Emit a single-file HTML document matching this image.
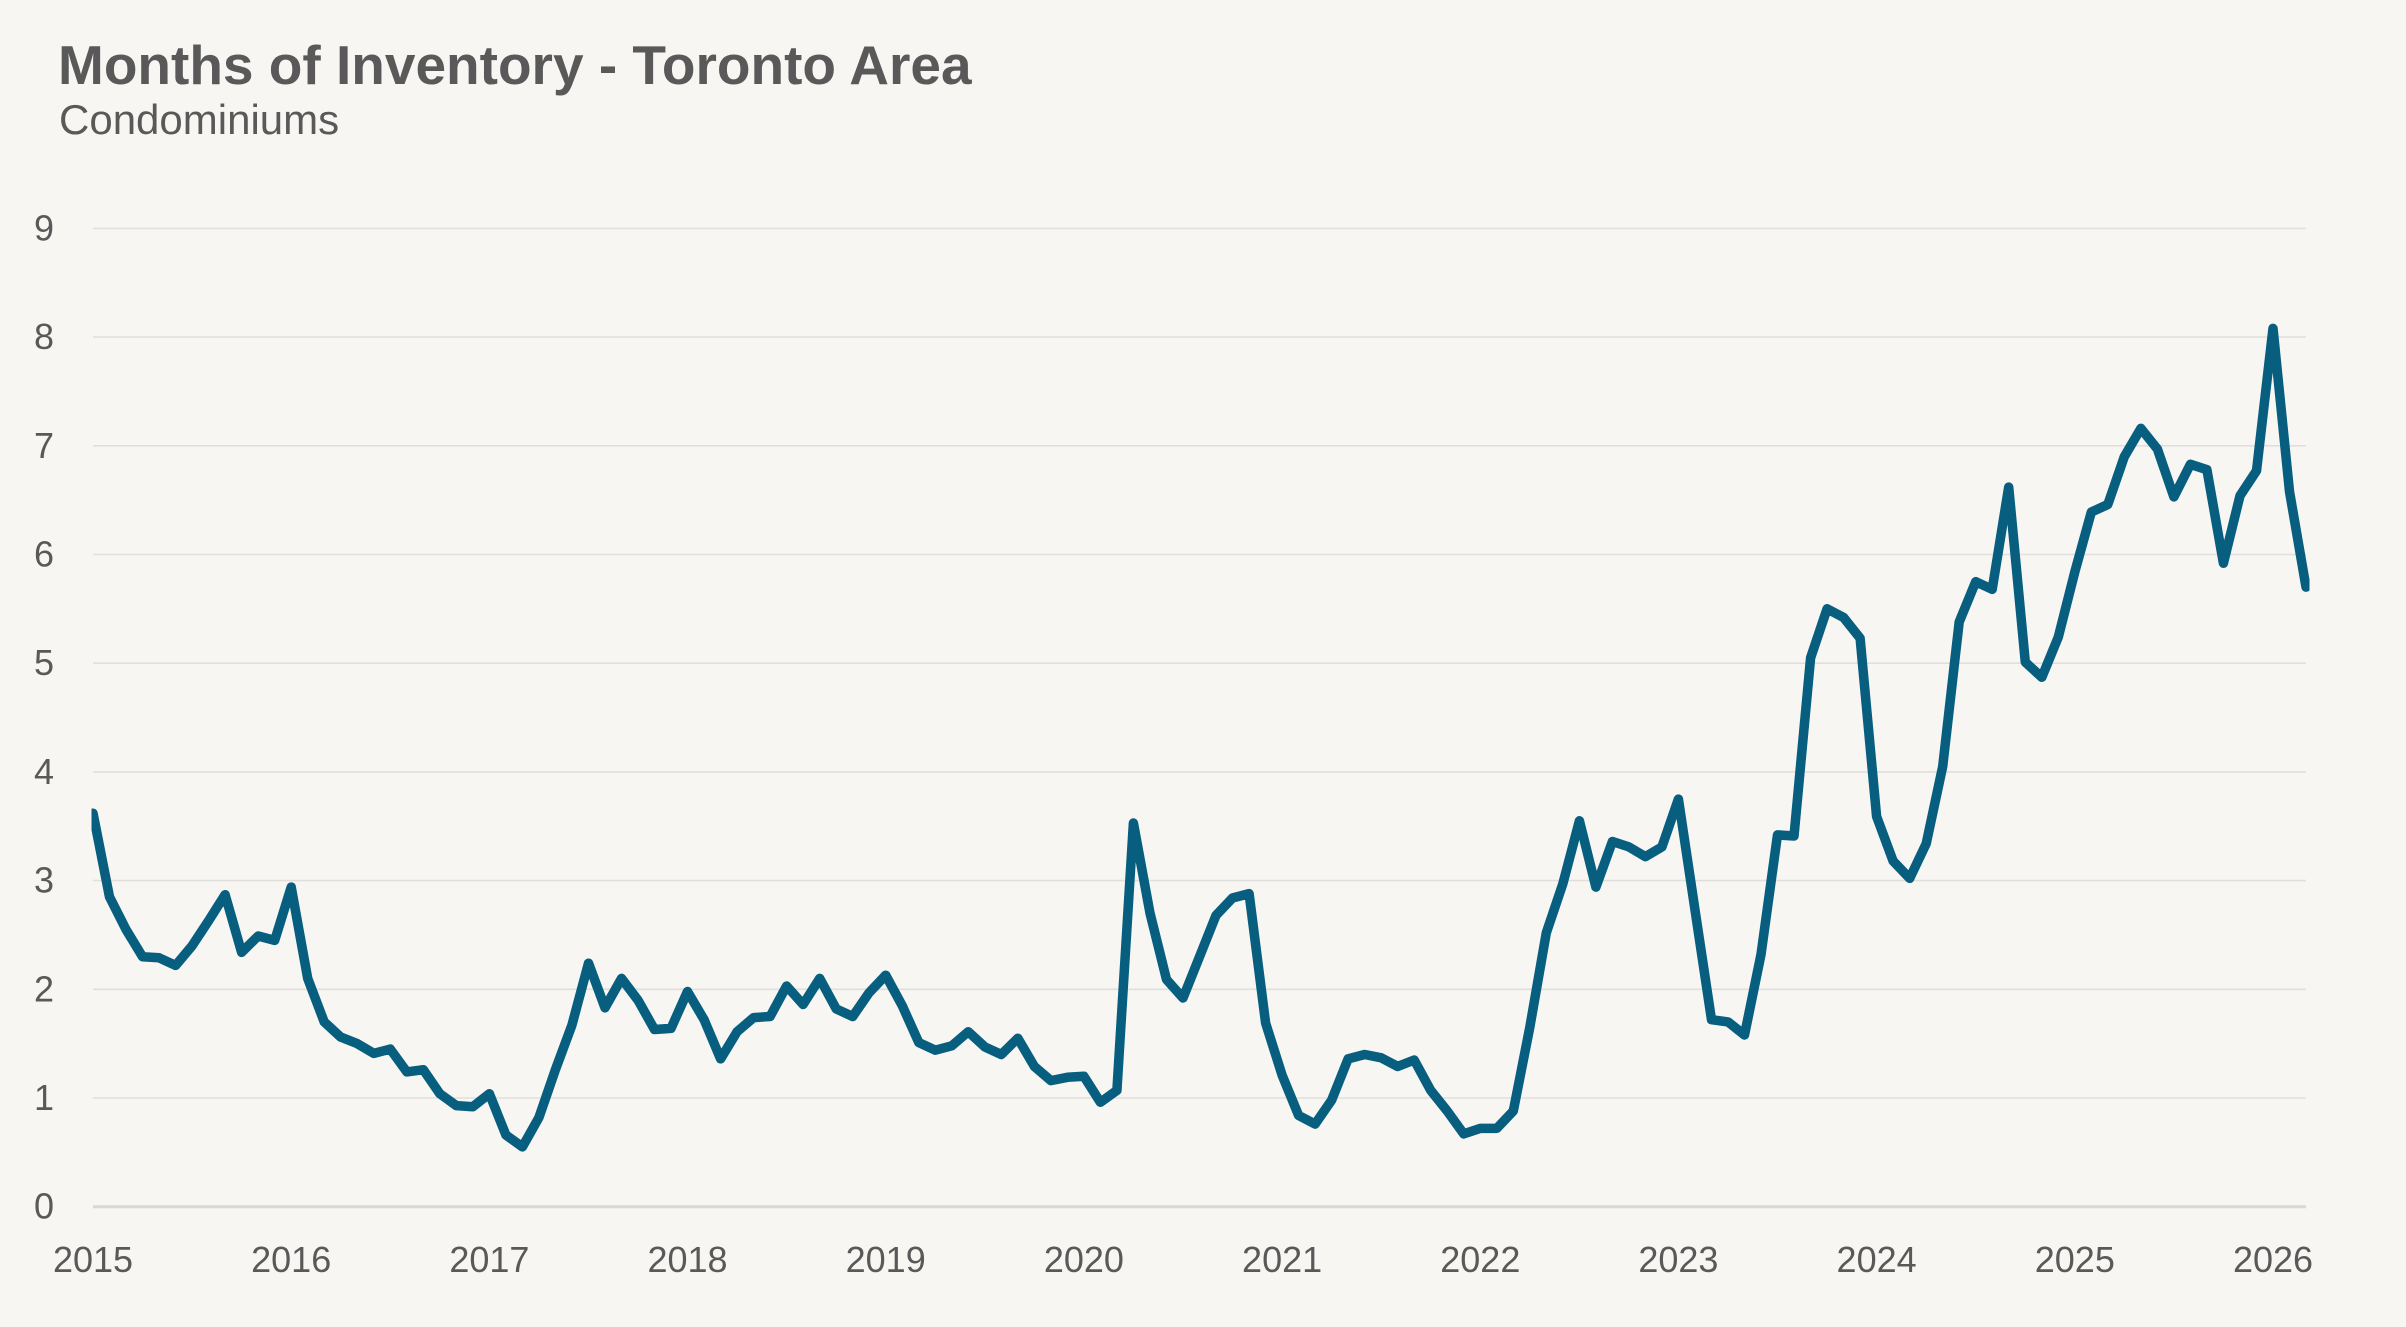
<!DOCTYPE html>
<html>
<head>
<meta charset="utf-8">
<style>
  html, body { margin:0; padding:0; background:#f7f6f3; }
  body { width:2406px; height:1327px; overflow:hidden; }
  svg { display:block; }
  .t { font-family:"Liberation Sans", Arial, sans-serif; fill:#595959; }
</style>
</head>
<body>
<svg width="2406" height="1327" viewBox="0 0 2406 1327" xmlns="http://www.w3.org/2000/svg">
  <rect x="0" y="0" width="2406" height="1327" fill="#f7f6f3"/>
  <text class="t" x="58" y="84" font-size="55" font-weight="bold">Months of Inventory - Toronto Area</text>
  <text class="t" x="59" y="134" font-size="42">Condominiums</text>

  <g stroke="#e1dfdc" stroke-width="1.6">
    <line x1="93" y1="228.4" x2="2306" y2="228.4"/>
    <line x1="93" y1="337.1" x2="2306" y2="337.1"/>
    <line x1="93" y1="445.8" x2="2306" y2="445.8"/>
    <line x1="93" y1="554.5" x2="2306" y2="554.5"/>
    <line x1="93" y1="663.2" x2="2306" y2="663.2"/>
    <line x1="93" y1="771.9" x2="2306" y2="771.9"/>
    <line x1="93" y1="880.6" x2="2306" y2="880.6"/>
    <line x1="93" y1="989.3" x2="2306" y2="989.3"/>
    <line x1="93" y1="1098.0" x2="2306" y2="1098.0"/>
  </g>
  <line x1="93" y1="1206.7" x2="2306" y2="1206.7" stroke="#d9d8d8" stroke-width="3"/>

  <g class="t" font-size="36" text-anchor="end">
    <text x="54" y="240.4">9</text>
    <text x="54" y="349.1">8</text>
    <text x="54" y="457.8">7</text>
    <text x="54" y="566.5">6</text>
    <text x="54" y="675.2">5</text>
    <text x="54" y="783.9">4</text>
    <text x="54" y="892.6">3</text>
    <text x="54" y="1001.3">2</text>
    <text x="54" y="1110.0">1</text>
    <text x="54" y="1218.7">0</text>
  </g>

  <g class="t" font-size="36" text-anchor="middle">
    <text x="93" y="1272">2015</text>
    <text x="291.2" y="1272">2016</text>
    <text x="489.4" y="1272">2017</text>
    <text x="687.5" y="1272">2018</text>
    <text x="885.7" y="1272">2019</text>
    <text x="1083.9" y="1272">2020</text>
    <text x="1282.1" y="1272">2021</text>
    <text x="1480.3" y="1272">2022</text>
    <text x="1678.4" y="1272">2023</text>
    <text x="1876.6" y="1272">2024</text>
    <text x="2074.8" y="1272">2025</text>
    <text x="2273.0" y="1272">2026</text>
  </g>

  <defs>
    <clipPath id="pc"><rect x="91.5" y="150" width="2218" height="1100"/></clipPath>
  </defs>
  <polyline clip-path="url(#pc)" fill="none" stroke="#075e7f" stroke-width="9.5" stroke-linejoin="round" stroke-linecap="round"
    points="93.0,813.2 109.5,896.9 126.0,929.5 142.5,956.7 159.1,957.8 175.6,965.4 192.1,945.8 208.6,920.8 225.1,894.7 241.6,952.3 258.2,936.0 274.7,940.4 291.2,887.1 307.7,978.4 324.2,1021.9 340.7,1037.1 357.2,1043.6 373.8,1053.4 390.3,1049.1 406.8,1071.9 423.3,1069.7 439.8,1093.7 456.3,1105.6 472.8,1106.7 489.4,1093.7 505.9,1135.0 522.4,1146.9 538.9,1117.6 555.4,1069.7 571.9,1025.2 588.5,963.2 605.0,1007.8 621.5,978.4 638.0,1000.2 654.5,1029.5 671.0,1028.4 687.5,991.5 704.1,1019.7 720.6,1058.9 737.1,1031.7 753.6,1017.6 770.1,1016.5 786.6,986.0 803.1,1004.5 819.7,978.4 836.2,1008.9 852.7,1016.5 869.2,992.6 885.7,975.2 902.2,1005.6 918.8,1042.6 935.3,1050.2 951.8,1045.8 968.3,1031.7 984.8,1046.9 1001.3,1054.5 1017.8,1038.2 1034.4,1066.5 1050.9,1080.6 1067.4,1077.3 1083.9,1076.3 1100.4,1102.3 1116.9,1090.4 1133.4,823.0 1150.0,913.2 1166.5,979.5 1183.0,998.0 1199.5,956.7 1216.0,915.4 1232.5,898.0 1249.1,893.6 1265.6,1023.0 1282.1,1075.2 1298.6,1115.4 1315.1,1124.1 1331.6,1100.2 1348.1,1058.9 1364.7,1054.5 1381.2,1057.8 1397.7,1066.5 1414.2,1060.0 1430.7,1090.4 1447.2,1111.0 1463.7,1133.9 1480.3,1128.4 1496.8,1128.4 1513.3,1111.0 1529.8,1027.3 1546.3,932.8 1562.8,883.9 1579.4,820.8 1595.9,887.1 1612.4,841.5 1628.9,846.9 1645.4,856.7 1661.9,846.9 1678.4,799.1 1695.0,909.9 1711.5,1019.7 1728.0,1021.9 1744.5,1035.0 1761.0,954.5 1777.5,834.9 1794.0,836.0 1810.6,657.8 1827.1,608.8 1843.6,617.5 1860.1,638.2 1876.6,816.5 1893.1,861.0 1909.7,878.4 1926.2,843.6 1942.7,766.5 1959.2,621.9 1975.7,581.7 1992.2,589.3 2008.7,487.1 2025.3,662.1 2041.8,677.3 2058.3,637.1 2074.8,571.9 2091.3,512.1 2107.8,504.5 2124.3,456.7 2140.9,428.4 2157.4,449.1 2173.9,496.9 2190.4,464.3 2206.9,469.7 2223.4,563.2 2240.0,495.8 2256.5,470.8 2273.0,328.4 2289.5,491.5 2306.0,587.1"/>
</svg>
</body>
</html>
